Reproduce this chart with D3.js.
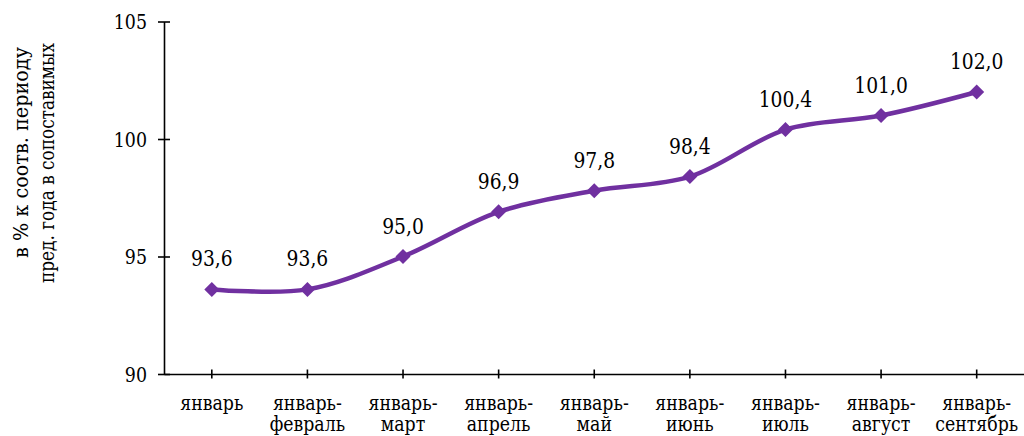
<!DOCTYPE html>
<html>
<head>
<meta charset="utf-8">
<script src="https://cdn.jsdelivr.net/npm/d3@7"></script>
<style>
  html, body { margin: 0; padding: 0; background: #fff; }
  svg { display: block; }
  svg text { font-family: "DejaVu Serif", serif; fill: #000; }
</style>
</head>
<body>
<svg id="chart" width="1024" height="436"></svg>
<script>
const categories = [
  ["январь"],
  ["январь-", "февраль"],
  ["январь-", "март"],
  ["январь-", "апрель"],
  ["январь-", "май"],
  ["январь-", "июнь"],
  ["январь-", "июль"],
  ["январь-", "август"],
  ["январь-", "сентябрь"]
];
const values = [93.6, 93.6, 95.0, 96.9, 97.8, 98.4, 100.4, 101.0, 102.0];
const yTicks = [90, 95, 100, 105];
const yTitle = ["в % к соотв. периоду", "пред. года в сопоставимых"];

const SX = 0.87; // horizontal condensing to approximate Times proportions
const svg = d3.select("#chart");
const keys = categories.map((c, i) => i);

const x = d3.scaleBand().domain(keys).range([164, 1024.5]).padding(0);
const y = d3.scaleLinear().domain([90, 105]).range([374, 21.5]);
const cx = i => x(i) + x.bandwidth() / 2;

// Y axis
const yAxis = svg.append("g").attr("transform", "translate(164,0)")
  .call(d3.axisLeft(y).tickValues(yTicks).tickSize(0).tickFormat(d => d));
yAxis.attr("font-family", null).attr("font-size", null);
yAxis.select(".domain").attr("stroke", "#000").attr("stroke-width", 1.6);
yAxis.selectAll(".tick line").remove();
yAxis.selectAll(".tick").append("line")
  .attr("x1", -6).attr("x2", 6).attr("stroke", "#000").attr("stroke-width", 1.6);
yAxis.selectAll(".tick text")
  .attr("x", 0).attr("dy", "0.36em")
  .attr("transform", `translate(-17,0) scale(${SX},1)`)
  .attr("font-size", 20);

// X axis
const xAxis = svg.append("g").attr("transform", "translate(0,374)")
  .call(d3.axisBottom(x).tickSize(0).tickFormat(""));
xAxis.attr("font-family", null).attr("font-size", null);
xAxis.select(".domain").attr("stroke", "#000").attr("stroke-width", 1.6);
xAxis.selectAll(".tick line").remove();
xAxis.selectAll(".tick").append("line")
  .attr("y1", -4.5).attr("y2", 4.5).attr("stroke", "#000").attr("stroke-width", 1.6);
xAxis.selectAll(".tick text").remove();
xAxis.selectAll(".tick").append("text")
  .attr("text-anchor", "middle")
  .attr("transform", `scale(0.89,1)`)
  .attr("font-size", 19.5)
  .each(function(d) {
    const t = d3.select(this);
    categories[d].forEach((s, k) => {
      t.append("tspan").attr("x", 0).attr("y", 36 + k * 21.5).text(s);
    });
  });

// Y title
const titleCenters = [152.5, 163];
const titleBase = [28, 54];
const titleLen = [211, 240];
yTitle.forEach((s, k) => {
  svg.append("text")
    .attr("transform", `translate(${titleBase[k]},${titleCenters[k]}) rotate(-90)`)
    .attr("text-anchor", "middle")
    .attr("font-size", 20.5)
    .attr("textLength", titleLen[k])
    .attr("lengthAdjust", "spacingAndGlyphs")
    .text(s);
});

// Line
const line = d3.line()
  .x((d, i) => cx(i))
  .y(d => y(d))
  .curve(d3.curveCatmullRom.alpha(0.5));
svg.append("path").datum(values)
  .attr("d", line)
  .attr("fill", "none")
  .attr("stroke", "#7030A0")
  .attr("stroke-width", 4.5)
  .attr("stroke-linejoin", "round");

// Markers
svg.append("g").selectAll("path").data(values).join("path")
  .attr("transform", (d, i) => `translate(${cx(i)},${y(d)})`)
  .attr("d", "M0,-7.5L7.5,0L0,7.5L-7.5,0Z")
  .attr("fill", "#7030A0");

// Data labels
svg.append("g").selectAll("text").data(values).join("text")
  .attr("transform", (d, i) => `translate(${cx(i)},${y(d) - 23}) scale(${SX},1)`)
  .attr("text-anchor", "middle")
  .attr("font-size", 21.5)
  .text(d => d.toFixed(1).replace(".", ","));
</script>
</body>
</html>
